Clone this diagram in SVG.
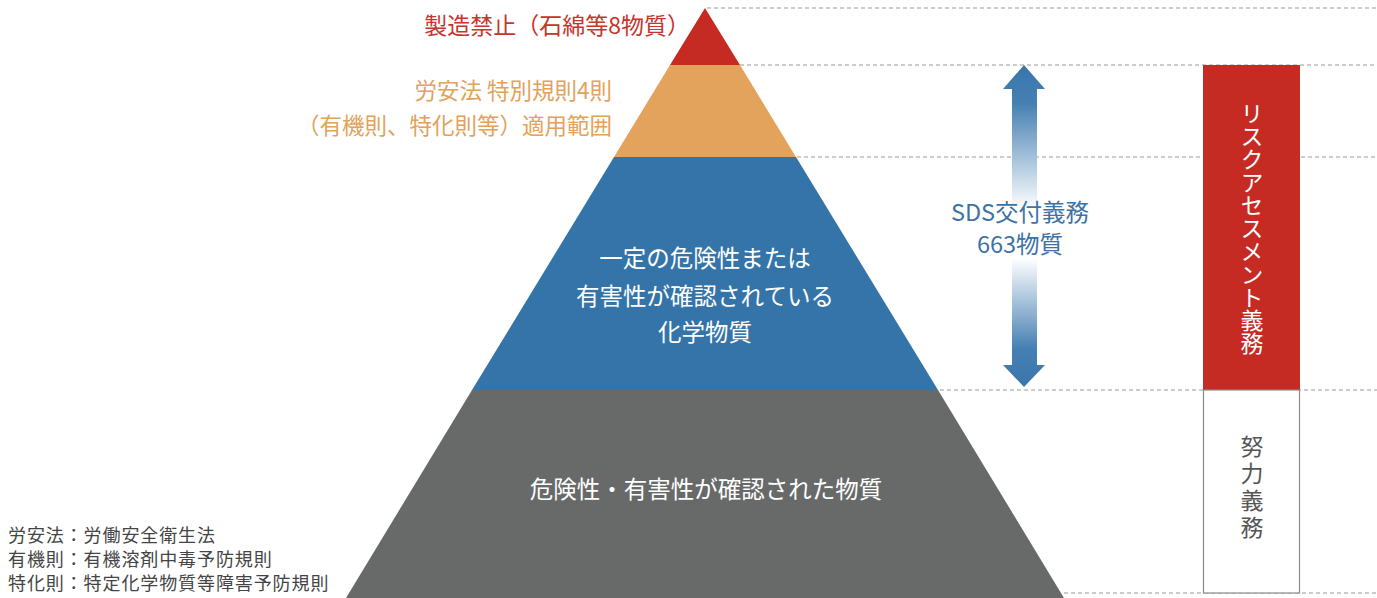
<svg xmlns="http://www.w3.org/2000/svg" width="1377" height="598" viewBox="0 0 1377 598">
<style>
.t{font-family:"Noto Sans CJK JP","Noto Sans",sans-serif}
.dash{stroke:#9a9a9a;stroke-width:1.2;stroke-dasharray:4 3;fill:none}
.leg{font-size:18px;fill:#444444;letter-spacing:0.9px}
</style>
<defs>
<linearGradient id="ag" x1="0" y1="65" x2="0" y2="387" gradientUnits="userSpaceOnUse">
<stop offset="0" stop-color="#3a76ab"/>
<stop offset="0.12" stop-color="#4680b3"/>
<stop offset="0.45" stop-color="#ffffff"/>
<stop offset="0.6" stop-color="#ffffff"/>
<stop offset="0.88" stop-color="#4680b3"/>
<stop offset="1" stop-color="#3a76ab"/>
</linearGradient>
</defs>
<rect width="1377" height="598" fill="#ffffff"/>
<g id="connectors">
<line class="dash" x1="707" y1="8" x2="1377" y2="8"/>
<line class="dash" x1="740" y1="65" x2="1377" y2="65"/>
<line class="dash" x1="797" y1="157" x2="1377" y2="157"/>
<line class="dash" x1="940" y1="390" x2="1377" y2="390"/>
<line class="dash" x1="1064" y1="593" x2="1377" y2="593"/>
</g>
<g id="pyramid">
<polygon id="level-red" points="705,8 740,65 670,65" fill="#c52b23"/>
<polygon id="level-orange" points="670,65 740,65 796,157 614,157" fill="#e4a35c"/>
<polygon id="level-blue" points="614,157 796,157 938,390 472,390" fill="#3474a8"/>
<polygon id="level-gray" points="472,390 938,390 1064,598 346,598" fill="#686a6a"/>
</g>
<g id="label-red">
<text class="t" x="690" y="34" font-size="23" fill="#c6342b" text-anchor="end">製造禁止（石綿等8物質）</text>
</g>
<g id="label-orange">
<text class="t" x="612" y="99" font-size="22.5" fill="#e2a25a" text-anchor="end">労安法 特別規則4則</text>
<text class="t" x="612" y="134" font-size="22.5" fill="#e2a25a" text-anchor="end">（有機則、特化則等）適用範囲</text>
</g>
<g id="label-blue">
<text class="t" x="705" y="267" font-size="23.5" fill="#ffffff" text-anchor="middle">一定の危険性または</text>
<text class="t" x="705" y="305" font-size="23.5" fill="#ffffff" text-anchor="middle">有害性が確認されている</text>
<text class="t" x="705" y="341" font-size="23.5" fill="#ffffff" text-anchor="middle">化学物質</text>
</g>
<g id="label-gray">
<text class="t" x="706" y="498" font-size="23.5" fill="#ffffff" text-anchor="middle">危険性・有害性が確認された物質</text>
</g>
<g id="sds-arrow">
<polygon points="1024,65 1045,89 1037,89 1037,365 1045,365 1024,387 1003,365 1012,365 1012,89 1003,89" fill="url(#ag)"/>
<text class="t" x="1020" y="221" font-size="23.5" fill="#3c72a6" text-anchor="middle">SDS交付義務</text>
<text class="t" x="1020" y="253" font-size="23.5" fill="#3c72a6" text-anchor="middle">663物質</text>
</g>
<g id="risk-assessment">
<rect x="1203" y="65" width="97" height="325" fill="#c52b23"/>
<text class="t" x="1252" y="228" font-size="23" fill="#ffffff" text-anchor="middle" writing-mode="vertical-rl">リスクアセスメント義務</text>
</g>
<g id="effort-duty">
<rect x="1203.5" y="390" width="96" height="203" fill="#ffffff" stroke="#8a8a8a" stroke-width="1.2"/>
<text class="t" x="1252" y="489" font-size="23" fill="#555555" text-anchor="middle" writing-mode="vertical-rl" letter-spacing="4">努力義務</text>
</g>
<g id="legend">
<text class="t leg" x="8" y="542">労安法：労働安全衛生法</text>
<text class="t leg" x="8" y="566">有機則：有機溶剤中毒予防規則</text>
<text class="t leg" x="8" y="590">特化則：特定化学物質等障害予防規則</text>
</g>
</svg>
